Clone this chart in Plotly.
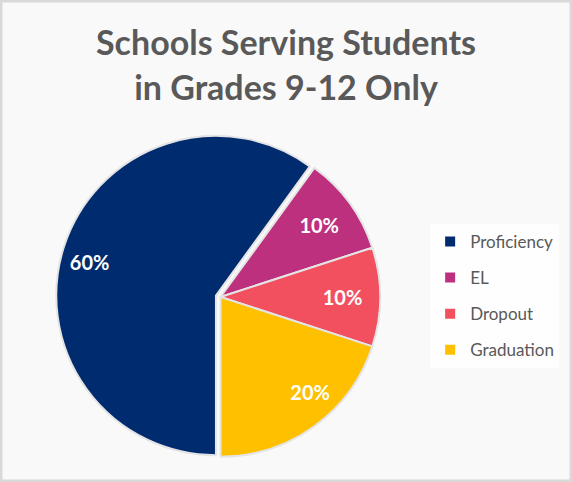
import plotly.graph_objects as go

# chart data
categories = ["Proficiency", "EL", "Dropout", "Graduation"]
shares = [60, 10, 10, 20]
slice_colors = ["#002B6E", "#BC307E", "#F2505F", "#FFC000"]

pulls = [0.03, 0, 0, 0]
pct = "%{percent:.0%}"
label_font = dict(family="Lato", size=20, color="white", weight="bold")

fig = go.Figure()

# the pie itself; the two thin slices keep their labels inside
fig.add_trace(go.Pie(
    labels=categories,
    values=shares,
    sort=False,
    direction="clockwise",
    rotation=180,
    pull=pulls,
    marker=dict(colors=slice_colors, line=dict(color="#E4E4E4", width=2)),
    texttemplate=["", pct, pct, ""],
    textposition="inside",
    insidetextorientation="horizontal",
    textfont=label_font,
    domain=dict(x=[0.098, 0.673], y=[0.0415, 0.726]),
    showlegend=False,
    hoverinfo="label+percent",
))

# see-through copy, smaller, so the big slices get labels further out (like excel)
fig.add_trace(go.Pie(
    labels=categories,
    values=shares,
    sort=False,
    direction="clockwise",
    rotation=180,
    pull=pulls,
    marker=dict(colors=["rgba(0,0,0,0)"] * 4, line=dict(width=0)),
    texttemplate=[pct, "", "", pct],
    textposition="outside",
    outsidetextfont=label_font,
    domain=dict(x=[0.1923, 0.5804], y=[0.1535, 0.6141]),
    showlegend=False,
    hoverinfo="skip",
))

# legend entries (separate so the spacing can be widened like the original)
for name, col in zip(categories, slice_colors):
    fig.add_trace(go.Scatter(
        x=[None], y=[None], mode="markers", name=name, legendgroup=name,
        marker=dict(symbol="square", size=10, color=col),
    ))

fig.update_layout(
    width=572, height=482,
    margin=dict(l=0, r=0, t=0, b=0),
    paper_bgcolor="#F9F9F9",
    plot_bgcolor="rgba(0,0,0,0)",
    xaxis=dict(visible=False),
    yaxis=dict(visible=False),
    title=dict(
        text="Schools Serving Students<br>in Grades 9-12 Only",
        x=0.5, xanchor="center", y=0.885, yanchor="middle",
        font=dict(family="Lato", size=34, color="#595959", weight="bold"),
    ),
    legend=dict(
        x=0.752, xanchor="left", y=0.386, yanchor="middle",
        bgcolor="rgba(255,255,255,0.8)",
        font=dict(family="Lato", size=17, color="#595959"),
        tracegroupgap=11,
    ),
    shapes=[dict(type="rect", xref="paper", yref="paper", x0=0, y0=0, x1=1, y1=1,
                 line=dict(color="#D9D9D9", width=5), layer="above")],
)

fig.write_html("out.html", config={"displayModeBar": False},
               post_script="document.body.style.margin='0';")
